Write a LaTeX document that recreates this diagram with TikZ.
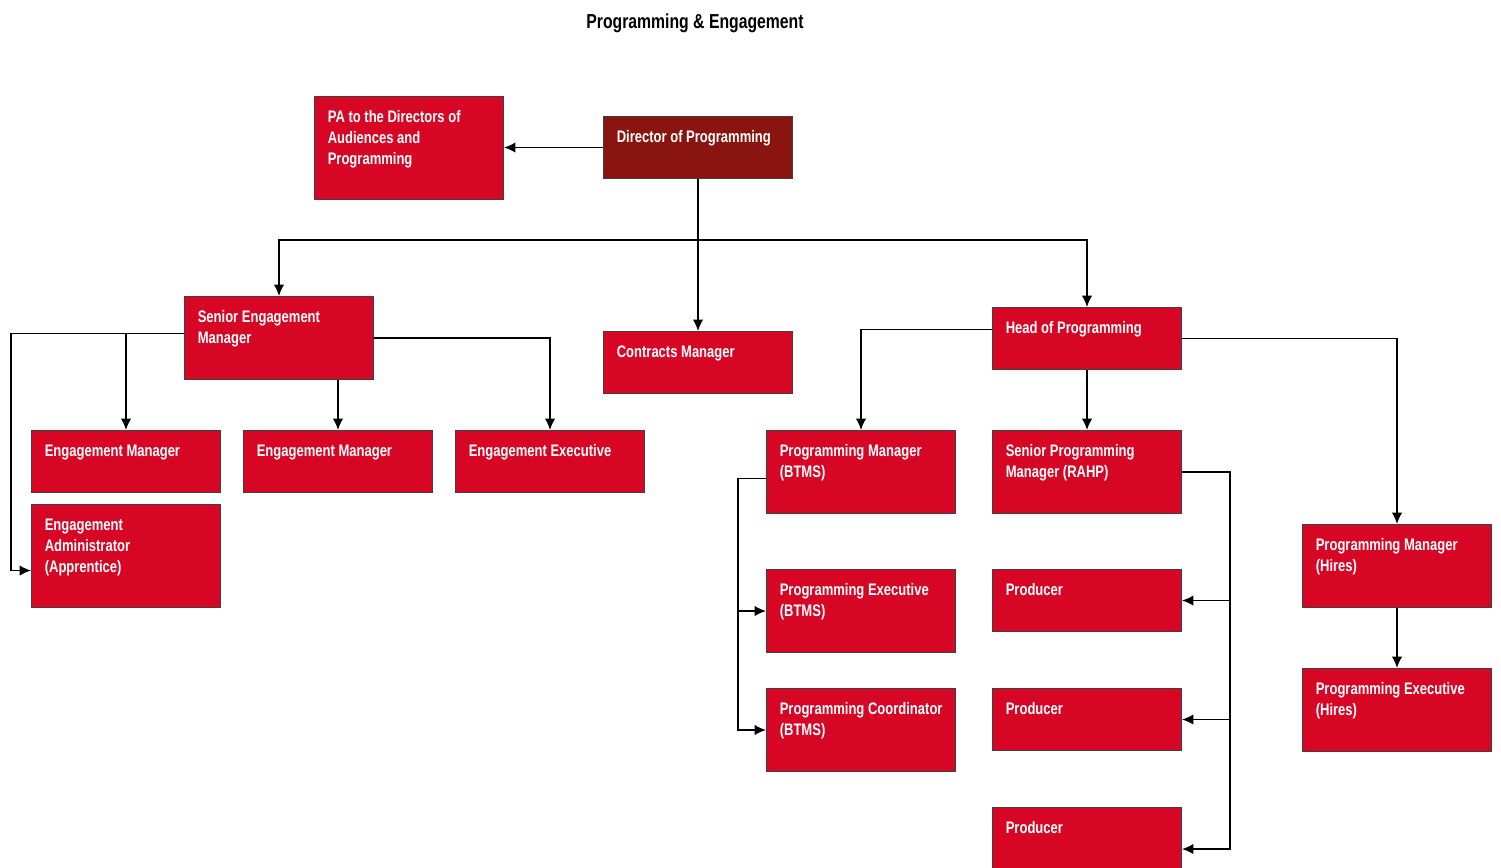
\documentclass[tikz,border=0pt]{standalone}
\usepackage{fontspec}
\setmainfont{Liberation Sans}[FakeStretch=0.78]
\usepackage{tikz}
\usetikzlibrary{arrows.meta}
\definecolor{rolered}{RGB}{214,6,36}
\definecolor{headred}{RGB}{138,20,16}
\newcommand{\rolefont}{\fontsize{9.5}{11.95}\selectfont\bfseries}
\newcommand{\titlefont}{\fontsize{11.5}{14}\selectfont\bfseries}
\tikzstyle{chart}=[x=0.02cm, y=-0.02cm, line width=0.9pt]
\tikzstyle{role}=[draw=black!75, line width=0.6pt, fill=rolered, anchor=north west, inner sep=0pt, minimum width=3.78cm, minimum height=1.24cm]
\tikzstyle{tall}=[minimum height=1.66cm]
\tikzstyle{taller}=[minimum height=2.06cm]
\tikzstyle{rt}=[text=white, font=\rolefont, align=left, anchor=north west, inner sep=0pt, xshift=0.26cm, yshift=-0.28cm]
\tikzstyle{edge}=[-{Latex[length=6.5pt, width=6pt]}]

\begin{document}
\begin{tikzpicture}[chart]
	\useasboundingbox (0,0) rectangle (1501,868);
	\draw (695,23) node[font=\titlefont] (title) {Programming \& Engagement};
	\draw (603,116) node[role, fill=headred, label={[rt]north west:Director of Programming}] (dir) {};
	\draw (314,96) node[role, taller, label={[rt]north west:PA to the Directors of\\Audiences and\\Programming}] (pa) {};
	\draw (184,296) node[role, tall, label={[rt]north west:Senior Engagement\\Manager}] (sem) {};
	\draw (603,331) node[role, label={[rt]north west:Contracts Manager}] (con) {};
	\draw (992,307) node[role, label={[rt]north west:Head of Programming}] (hop) {};
	\draw (31,430) node[role, label={[rt]north west:Engagement Manager}] (em1) {};
	\draw (243,430) node[role, label={[rt]north west:Engagement Manager}] (em2) {};
	\draw (455,430) node[role, label={[rt]north west:Engagement Executive}] (ee) {};
	\draw (31,504) node[role, taller, label={[rt]north west:Engagement\\Administrator\\(Apprentice)}] (adm) {};
	\draw (766,430) node[role, tall, label={[rt]north west:Programming Manager\\(BTMS)}] (pmb) {};
	\draw (766,569) node[role, tall, label={[rt]north west:Programming Executive\\(BTMS)}] (peb) {};
	\draw (766,688) node[role, tall, label={[rt]north west:Programming Coordinator\\(BTMS)}] (pcb) {};
	\draw (992,430) node[role, tall, label={[rt]north west:Senior Programming\\Manager (RAHP)}] (spm) {};
	\draw (992,569) node[role, label={[rt]north west:Producer}] (pr1) {};
	\draw (992,688) node[role, label={[rt]north west:Producer}] (pr2) {};
	\draw (992,807) node[role, tall, label={[rt]north west:Producer}] (pr3) {};
	\draw (1302,524) node[role, tall, label={[rt]north west:Programming Manager\\(Hires)}] (pmh) {};
	\draw (1302,668) node[role, tall, label={[rt]north west:Programming Executive\\(Hires)}] (peh) {};
	\coordinate (bus) at (dir.south |- 0,240);
	\coordinate (semw) at ([yshift=0.09cm]sem.west);
	\coordinate (lft) at (semw -| 11,0);
	\draw[edge] (dir.west) -- (dir.west -| pa.east);
	\draw (dir.south) -- (bus);
	\draw[edge] (bus) -| (sem.north);
	\draw[edge] (bus) -- (con.north);
	\draw[edge] (bus) -| (hop.north);
	\draw[edge] (semw) -- (lft) |- ([yshift=-0.29cm]adm.west);
	\draw[edge] (em1.north |- lft) -- (em1.north);
	\draw[edge] (em2.north |- sem.south) -- (em2.north);
	\draw[edge] (sem.east) -| (ee.north);
	\draw[edge] ([yshift=0.18cm]hop.west) -| (pmb.north);
	\draw[edge] (hop.south) -- (spm.north);
	\draw[edge] (hop.east) -| (pmh.north);
	\draw[edge] ([yshift=-0.13cm]pmb.west) -- ++(-28,0) |- (peb.west);
	\draw[edge] ([yshift=-0.13cm]pmb.west) -- ++(-28,0) |- (pcb.west);
	\draw[edge] (spm.east) -- ++(48,0) |- (pr1.east);
	\draw[edge] (spm.east) -- ++(48,0) |- (pr2.east);
	\draw[edge] (spm.east) -- ++(48,0) |- (pr3.east);
	\draw[edge] (pmh.south) -- (peh.north);
\end{tikzpicture}
\end{document}
